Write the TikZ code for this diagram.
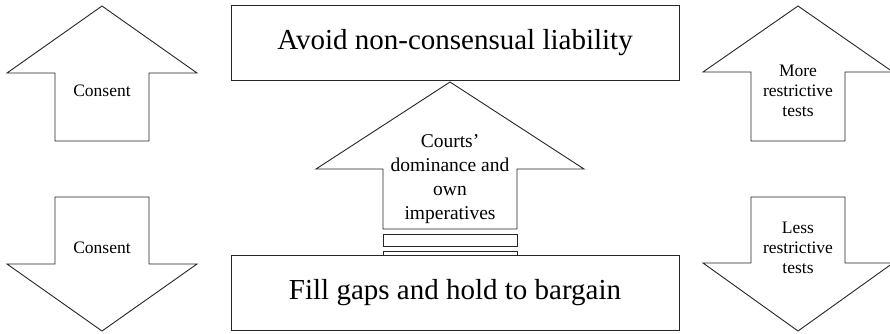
\documentclass[tikz,border=0pt]{standalone}
\usepackage{fontspec}
\setmainfont{Liberation Serif}
\begin{document}
\begin{tikzpicture}[x=1pt,y=-1pt,
  arrowshape/.style={draw=black!85,line width=0.9pt,line join=miter,fill=white},
  bigbox/.style={draw=black!85,line width=0.9pt,minimum width=448pt,minimum height=75pt,inner sep=0pt,font=\fontsize{29}{33}\selectfont},
  small/.style={align=center,font=\fontsize{17.5}{20}\selectfont,inner sep=0pt},
  mid/.style={align=center,font=\fontsize{19.5}{24}\selectfont,inner sep=0pt}]
\useasboundingbox (0,0) rectangle (890,333);
% top and bottom boxes
\node[bigbox] (top) at (455,43) {Avoid non-consensual liability};
\node[bigbox] (bot) at (455,293) {Fill gaps and hold to bargain};
% left arrows
\draw[arrowshape] (102,6) -- (197,73) -- (149,73) -- (149,141) -- (55,141) -- (55,73) -- (7,73) -- cycle;
\node[small] (lu) at (102,91) {Consent};
\draw[arrowshape] (102,331) -- (197,264) -- (149,264) -- (149,197) -- (55,197) -- (55,264) -- (7,264) -- cycle;
\node[small] (ld) at (102,248) {Consent};
% right arrows
\draw[arrowshape] (798,6) -- (893,72) -- (845,72) -- (845,141) -- (751,141) -- (751,72) -- (703,72) -- cycle;
\node[small] (ru) at (798,91) {More\\restrictive\\tests};
\draw[arrowshape] (798,331) -- (893,263) -- (845,263) -- (845,197) -- (751,197) -- (751,263) -- (703,263) -- cycle;
\node[small] (rd) at (798,248) {Less\\restrictive\\tests};
% middle arrow
\draw[arrowshape] (450,82) -- (584,169) -- (517,169) -- (517,229) -- (383,229) -- (383,169) -- (316,169) -- cycle;
\draw[arrowshape] (383,234) rectangle (517,246);
\draw[arrowshape] (383,251) rectangle (517,255);
\node[mid] (mt) at (450,179) {Courts’\\dominance and\\own\\imperatives};
\end{tikzpicture}
\end{document}
